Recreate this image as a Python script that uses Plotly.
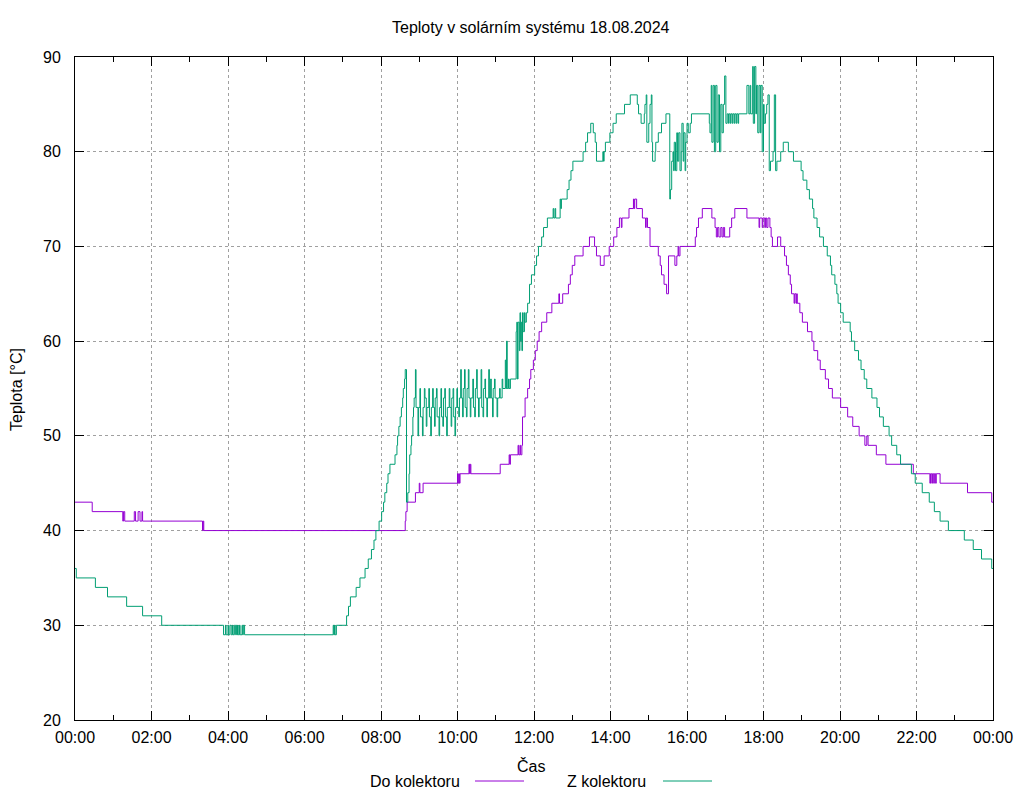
import pandas as pd
import plotly.graph_objects as go

# ---- data: (minutes after midnight, temperature °C) change points ----
do_kolektoru = [
    (0, 43), (27, 42), (75, 41), (76, 42), (78, 41), (93, 42), (95, 41), (99, 42),
    (102, 41), (105, 42), (106, 41), (200, 40), (201, 41), (202, 40),
    (518, 41), (519, 42), (521, 43), (534, 44), (540, 45), (541, 44), (546, 45),
    (600, 46), (601, 45), (602, 46), (603, 45), (604, 46), (618, 47), (619, 46),
    (620, 47), (621, 46), (667, 47), (681, 48), (682, 47), (683, 48),
    (695, 49), (696, 48), (698, 49), (699, 48), (701, 49),
    (702, 52), (706, 54), (710, 55), (713, 56), (715, 57), (719, 58), (722, 59),
    (725, 60), (728, 61), (732, 62), (740, 63), (748, 64), (759, 65), (760, 64),
    (765, 65), (774, 66), (777, 67), (780, 68), (784, 69), (797, 70), (807, 71),
    (815, 70), (818, 69), (824, 68), (830, 69), (838, 70), (845, 71), (850, 72),
    (854, 73), (857, 72), (858, 73), (869, 74), (876, 75), (877, 74), (878, 75),
    (881, 74), (890, 73), (895, 72), (896, 73), (898, 72), (902, 70), (915, 69),
    (918, 68), (920, 67), (924, 66), (928, 65), (931, 69), (941, 68), (944, 69),
    (946, 70), (947, 69), (949, 70), (973, 71), (975, 72), (978, 73), (984, 74),
    (999, 73), (1004, 72), (1006, 71), (1008, 72), (1010, 71), (1013, 72),
    (1015, 71), (1017, 72), (1019, 71), (1027, 72), (1030, 73), (1035, 74),
    (1054, 73), (1073, 72), (1074, 73), (1078, 72), (1079, 73), (1082, 72),
    (1083, 73), (1085, 72), (1087, 73), (1090, 72), (1092, 71), (1094, 70),
    (1102, 71), (1107, 70), (1113, 69), (1116, 68), (1119, 67), (1122, 66),
    (1124, 65), (1128, 64), (1129, 65), (1131, 64), (1132, 65), (1133, 64),
    (1137, 63), (1141, 62), (1149, 61), (1156, 60), (1159, 59), (1165, 58),
    (1169, 57), (1177, 56), (1182, 55), (1188, 54), (1201, 53), (1212, 52),
    (1220, 51), (1230, 50), (1239, 49), (1242, 50), (1244, 49), (1257, 48),
    (1272, 47), (1315, 46), (1341, 45), (1342, 46), (1344, 45), (1345, 46),
    (1347, 45), (1348, 46), (1350, 45), (1351, 46), (1357, 45), (1400, 44),
    (1438, 43), (1440, 43),
]

z_kolektoru = [
    (0, 36), (2, 35), (32, 34), (51, 33), (81, 32), (106, 31), (136, 30),
    (233, 29), (236, 30), (237, 29), (240, 30), (241, 29), (243, 30), (245, 29),
    (247, 30), (248, 29), (250, 30), (252, 29), (253, 30), (254, 29), (255, 30),
    (256, 29), (258, 30), (259, 29), (262, 30), (263, 29), (264, 30), (266, 29),
    (405, 30), (406, 29), (407, 30), (408, 29), (410, 30),
    (426, 31), (429, 32), (432, 33), (441, 34), (447, 35), (455, 36), (460, 37),
    (465, 38), (469, 39), (472, 40), (477, 41), (481, 42), (484, 43), (486, 44),
    (489, 45), (491, 46), (494, 47), (502, 48), (505, 49), (506, 50), (508, 51),
    (510, 52), (512, 53), (514, 54), (515, 55), (517, 56), (518, 57),
    (520, 43), (522, 44), (524, 46), (525, 48), (527, 49), (528, 50), (530, 52),
    (531, 53), (532, 54),
    (534, 57), (535, 53), (538, 50), (539, 53), (541, 55), (542, 52), (545, 50),
    (546, 53), (548, 55), (549, 54), (551, 51), (552, 53), (555, 55), (556, 52),
    (558, 50), (559, 53), (561, 55), (562, 53), (564, 51), (565, 54), (567, 55),
    (568, 52), (571, 50), (572, 53), (574, 55), (575, 52), (577, 51), (578, 54),
    (580, 55), (581, 52), (583, 50), (584, 53), (587, 55), (588, 53), (590, 51),
    (591, 54), (593, 55), (594, 52), (596, 50), (597, 53), (599, 55),
    (600, 53), (602, 52), (603, 54), (605, 57), (606, 54), (608, 52), (609, 55),
    (611, 57), (612, 53), (614, 52), (615, 55), (617, 57), (618, 54), (620, 52),
    (621, 54), (624, 56), (625, 53), (627, 52), (628, 55), (630, 57), (631, 54),
    (633, 52), (634, 54), (637, 57), (638, 53), (640, 52), (641, 55), (643, 56),
    (644, 54), (646, 52), (647, 54), (649, 57), (650, 54),
    (652, 56), (653, 54), (655, 52), (656, 55), (658, 56), (659, 54), (662, 52),
    (663, 54), (666, 55), (667, 54), (670, 56), (671, 55), (675, 58), (676, 55),
    (677, 60), (678, 55), (680, 56), (681, 55), (683, 56),
    (692, 61), (693, 62), (694, 56), (695, 62), (697, 59), (698, 63), (699, 60),
    (700, 62), (701, 59), (702, 63), (703, 61), (705, 63), (706, 62), (708, 63),
    (710, 64), (713, 66), (716, 67), (721, 68), (724, 69), (727, 70), (732, 71),
    (735, 72), (741, 73), (750, 74), (751, 73), (753, 74), (754, 73), (761, 75),
    (762, 74), (763, 75), (772, 76), (775, 77), (778, 78), (781, 79), (797, 80),
    (801, 81), (804, 82), (809, 83), (813, 82), (816, 81), (818, 79), (828, 80),
    (829, 79), (830, 80), (832, 81), (839, 82), (844, 83), (849, 84), (862, 85),
    (871, 86), (882, 85), (884, 84), (888, 83), (893, 84), (894, 85), (896, 86),
    (897, 81), (900, 83), (902, 85), (904, 86), (905, 81), (906, 79), (910, 80),
    (911, 81), (915, 82), (920, 83), (927, 84), (933, 75), (934, 76), (936, 79),
    (938, 80), (939, 78), (940, 81), (942, 78), (944, 82), (945, 79), (947, 82),
    (949, 78), (951, 80), (952, 83), (954, 79), (955, 82), (957, 78), (958, 81),
    (960, 83), (962, 82), (965, 83), (967, 84),
    (995, 83), (996, 82), (998, 87), (999, 81), (1001, 87), (1003, 80), (1005, 87),
    (1007, 81), (1009, 86), (1011, 80), (1013, 85), (1015, 82), (1017, 85),
    (1019, 88), (1021, 83), (1023, 84), (1025, 83), (1026, 84), (1028, 83),
    (1029, 84), (1031, 83), (1032, 84), (1034, 83), (1035, 84), (1037, 83),
    (1038, 84), (1040, 83), (1041, 84),
    (1054, 87), (1057, 84), (1059, 87), (1060, 84), (1063, 89), (1064, 83),
    (1066, 89), (1068, 84), (1069, 87), (1071, 82), (1073, 87), (1075, 82),
    (1076, 87), (1078, 80), (1080, 85), (1081, 83), (1083, 84), (1085, 85),
    (1087, 86), (1089, 78), (1091, 79), (1095, 80), (1097, 86), (1099, 78),
    (1101, 79), (1107, 80), (1111, 81), (1119, 80), (1127, 79), (1139, 78),
    (1142, 77), (1148, 76), (1152, 75), (1157, 74), (1159, 73), (1164, 72),
    (1168, 71), (1174, 70), (1180, 69), (1185, 68), (1187, 67), (1192, 66),
    (1195, 65), (1197, 64), (1201, 63), (1205, 62), (1216, 61), (1218, 60),
    (1223, 59), (1229, 58), (1233, 57), (1238, 56), (1242, 55), (1250, 54),
    (1258, 53), (1262, 52), (1268, 51), (1277, 50), (1281, 49), (1289, 48),
    (1295, 47), (1312, 46), (1318, 45), (1329, 44), (1340, 43), (1348, 42),
    (1357, 41), (1370, 40), (1395, 39), (1409, 38), (1422, 37), (1438, 36),
    (1440, 36),
]

series_names = ["Do kolektoru", "Z kolektoru"]
series_colors = ["#9400d3", "#009e73"]
day = pd.Timestamp("2024-08-18")
x_range = [day, day + pd.Timedelta(days=1)]
y_range = [20, 90]

FONT = "Liberation Sans, Arial, sans-serif"
FS = 16

fig = go.Figure()
for pts, color, name in [(do_kolektoru, series_colors[0], series_names[0]),
                         (z_kolektoru, series_colors[1], series_names[1])]:
    mins = [p[0] for p in pts]
    vals = [p[1] for p in pts]
    t = day + pd.to_timedelta(mins, unit="m")
    fig.add_trace(go.Scatter(x=t, y=vals, mode="lines", line_shape="hv", name=name,
                             line=dict(color=color, width=1), showlegend=False,
                             hoverinfo="skip"))

# plot area in pixels: x 75..993, y 57..720
L, R, T, B = 75, 993, 57, 720
W, H = R - L, B - T


def px(xp):
    return (xp - L) / W


def py(yp):
    return (B - yp) / H


axis_common = dict(
    showline=True, linecolor="black", linewidth=1, mirror="allticks",
    ticks="inside", tickcolor="black", tickwidth=1,
    showgrid=True, gridcolor="#a0a0a0", griddash="dot", gridwidth=1,
    zeroline=False, tickfont=dict(family=FONT, size=FS, color="black"),
)

fig.update_xaxes(type="date", range=x_range, tickformat="%H:%M",
                 tick0=day, dtick=7200000, ticklen=9, ticklabelstandoff=3,
                 minor=dict(dtick=3600000, ticks="inside", ticklen=5,
                            tickcolor="black", showgrid=False),
                 **axis_common)
fig.update_yaxes(range=y_range, dtick=10, ticklen=9, ticklabelstandoff=10,
                 **axis_common)

annotations = [
    dict(text="Teploty v solárním systému 18.08.2024", x=px(531), y=py(28)),
    dict(text="Čas", x=px(531), y=py(766)),
    dict(text="Teplota [°C]", x=px(16), y=py(390), textangle=-90),
    dict(text=series_names[0], x=px(462), y=py(781), xanchor="right"),
    dict(text=series_names[1], x=px(648), y=py(781), xanchor="right"),
]
for a in annotations:
    a.setdefault("xanchor", "center")
    a.update(xref="paper", yref="paper", yanchor="middle", showarrow=False,
             font=dict(family=FONT, size=FS, color="black"))
fig.update_layout(annotations=annotations)

# legend samples (gnuplot style: text followed by a line sample)
shapes = [
    dict(type="line", xref="paper", yref="paper", x0=px(475), x1=px(524),
         y0=py(781), y1=py(781), line=dict(color=series_colors[0], width=1)),
    dict(type="line", xref="paper", yref="paper", x0=px(663), x1=px(712),
         y0=py(781), y1=py(781), line=dict(color=series_colors[1], width=1)),
]
fig.update_layout(shapes=shapes)

fig.update_layout(
    width=1024, height=800,
    margin=dict(l=L, r=1024 - R, t=T, b=800 - B, pad=0),
    plot_bgcolor="white", paper_bgcolor="white",
    font=dict(family=FONT, size=FS, color="black"),
    showlegend=False,
)

fig.write_html("out.html", config={"displayModeBar": False},
               post_script="document.body.style.margin='0px';"
                           "document.body.style.overflow='hidden';")
